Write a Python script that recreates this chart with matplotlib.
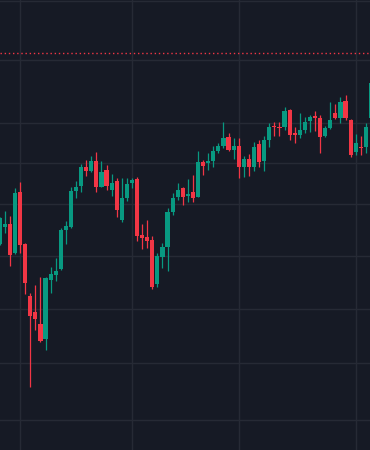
import matplotlib
matplotlib.use("Agg")
import matplotlib.pyplot as plt
import numpy as np

# OHLC values (price units), oldest to newest
opens = [206.0, 223.0, 226.0, 196.7, 258.0, 206.0, 154.3, 137.7, 125.7, 111.0,
         170.0, 175.0, 180.7, 220.0, 223.0, 259.0, 264.0, 283.3, 279.0, 289.0,
         263.3, 280.0, 260.5, 269.0, 230.0, 251.7, 266.7, 271.5, 215.0, 213.3,
         210.0, 166.0, 193.3, 203.3, 238.3, 252.7, 261.7, 254.3, 257.7, 253.3,
         288.3, 286.7, 289.3, 299.3, 304.0, 313.3, 300.0, 304.3, 282.7, 290.7,
         283.3, 305.7, 289.3, 310.0, 324.3, 323.3, 323.3, 340.0, 316.7, 315.0,
         320.0, 329.3, 334.0, 332.3, 314.0, 321.7, 337.3, 331.7, 349.3, 330.0,
         298.3, 303.3, 303.3, 331.7]
highs = [233.3, 239.0, 234.0, 262.0, 267.7, 207.0, 156.7, 165.0, 172.7, 173.0,
         183.3, 191.7, 222.0, 229.3, 263.0, 268.7, 286.0, 290.0, 294.3, 298.5,
         289.0, 285.0, 276.0, 272.5, 272.3, 272.3, 272.0, 273.5, 226.0, 230.0,
         214.0, 196.7, 207.3, 241.7, 256.7, 266.7, 263.3, 270.7, 275.0, 299.3,
         290.0, 297.3, 304.0, 306.7, 328.3, 317.3, 312.0, 311.7, 294.0, 296.0,
         308.3, 310.0, 314.0, 326.7, 328.3, 328.3, 343.3, 341.0, 323.3, 336.7,
         332.7, 335.0, 339.0, 335.0, 324.0, 348.3, 346.0, 352.7, 355.0, 330.7,
         316.0, 314.0, 326.7, 367.5]
lows = [205.0, 217.0, 184.3, 196.0, 197.0, 156.0, 62.7, 120.0, 107.7, 100.0,
        157.3, 169.0, 180.0, 206.0, 222.0, 252.0, 258.0, 274.3, 278.0, 258.3,
        263.0, 260.0, 254.0, 233.5, 227.7, 249.0, 261.7, 209.3, 200.7, 201.7,
        160.7, 163.3, 181.7, 179.3, 235.0, 250.0, 245.0, 248.3, 247.7, 253.0,
        275.0, 280.0, 282.7, 296.7, 301.7, 299.0, 290.7, 271.7, 272.7, 274.3,
        279.3, 282.7, 279.3, 303.3, 314.0, 314.0, 320.0, 310.0, 306.7, 311.7,
        316.7, 318.3, 319.3, 297.3, 312.7, 320.7, 330.7, 327.3, 330.0, 293.3,
        295.0, 295.0, 297.3, 330.0]
closes = [232.3, 226.0, 195.5, 256.7, 205.5, 166.7, 134.3, 131.0, 109.0, 172.3,
          176.0, 179.0, 220.5, 224.0, 259.0, 263.3, 283.3, 279.0, 288.7, 263.3,
          278.3, 264.3, 267.0, 240.0, 252.3, 265.7, 270.3, 214.3, 211.7, 209.3,
          163.3, 194.0, 203.3, 238.3, 251.7, 260.0, 253.3, 256.3, 252.3, 287.7,
          284.3, 289.3, 299.3, 304.0, 312.3, 300.0, 304.0, 282.7, 291.0, 283.3,
          302.7, 288.3, 310.0, 323.3, 323.0, 321.7, 339.0, 315.0, 315.3, 320.0,
          328.3, 333.3, 331.7, 312.7, 321.7, 330.0, 331.7, 348.3, 331.7, 295.0,
          307.3, 302.3, 323.3, 367.0]

price_line = 396.7          # dotted red reference level
price_grid = [449.0, 390.0, 327.3, 287.0, 246.0, 194.3, 141.3, 87.3, 30.0]
time_grid = [4, 26, 47, 70]  # candle indices of vertical grid lines

BG = "#161a25"
GRID = "#262a35"
UP = "#089981"
DOWN = "#f23645"

fig = plt.figure(figsize=(3.7, 4.5), dpi=100, facecolor=BG)
ax = fig.add_axes([0, 0, 1, 1])
ax.set_facecolor(BG)

x = np.arange(len(opens))
o = np.array(opens); h = np.array(highs); l = np.array(lows); c = np.array(closes)
up = c >= o
colors = np.where(up, UP, DOWN)

for yv in price_grid:
    ax.axhline(yv, color=GRID, lw=1.0, zorder=0)
for xv in time_grid:
    ax.axvline(xv, color=GRID, lw=1.0, zorder=0)

ax.vlines(x, l, h, colors=colors, lw=0.9, zorder=2)
bottom = np.minimum(o, c)
height = np.maximum(np.abs(c - o), 1.2)
ax.bar(x, height, bottom=bottom, width=0.82, color=colors, linewidth=0, zorder=3)

ax.axhline(price_line, color=DOWN, lw=1.0, linestyle=(0, (1, 2)), zorder=4)

ax.set_xlim(0.05, 72.81)
ax.set_ylim(0, 450)
for s in ax.spines.values():
    s.set_visible(False)
ax.set_xticks([]); ax.set_yticks([])

fig.savefig("out.png", dpi=100, facecolor=BG)
